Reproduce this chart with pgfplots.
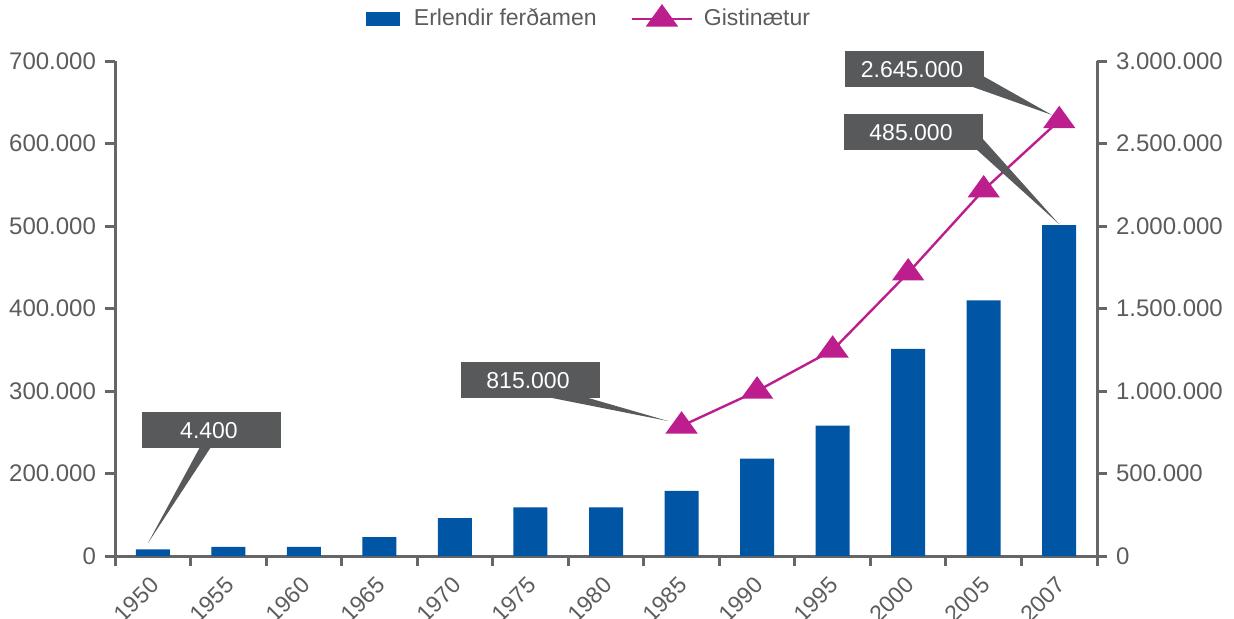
\documentclass[border=0pt]{standalone}
\usepackage{pgfplots}
\pgfplotsset{compat=1.18}
\usepackage{fontspec}
\setmainfont{Liberation Sans}
\definecolor{barblue}{HTML}{0055A5}
\definecolor{linemag}{HTML}{BD1E8E}
\definecolor{boxgray}{HTML}{58595B}
\definecolor{axisgray}{HTML}{666666}
\definecolor{textgray}{HTML}{5C5C5C}
\newcommand{\pc}[2]{({(#1-115)*0.5pt},{(556-#2)*0.5pt})}
\pgfplotsset{tri legend/.style={legend image code/.code={\path[draw=none,fill=none] (0pt,0pt) rectangle (34pt,0.1pt); \draw[mark repeat=2, mark phase=2, ##1] plot coordinates {(0pt,0pt) (15pt,0pt) (30pt,0pt)};}}}
\begin{document}
\begin{tikzpicture}
\useasboundingbox \pc{0}{0} rectangle \pc{1234}{618};
\pgfplotsset{
  common/.style={
    width=491pt, height=247.5pt, scale only axis,
    at={(0,0)}, anchor=south west,
    xmin=-0.5, xmax=12.5,
    axis line style={line width=1.5pt, color=axisgray},
    tick style={line width=1.5pt, color=axisgray},
    tick align=outside,
    every tick label/.append style={font=\fontsize{12}{14}\selectfont, text=textgray},
    /pgf/number format/assume math mode=true,
  }
}
\begin{axis}[common,
  ymin=0, ymax=600,
  axis y line*=left, axis x line*=bottom,
  ytick={0,100,200,300,400,500,600},
  yticklabels={0,200.000,300.000,400.000,500.000,600.000,700.000},
  major tick length=5pt,
  xtick={0,...,12},
  xticklabels={1950,1955,1960,1965,1970,1975,1980,1985,1990,1995,2000,2005,2007},
  x tick style={draw=none},
  minor xtick={-0.5,0.5,...,12.5},
  minor x tick style={line width=1.5pt, color=axisgray, draw=axisgray},
  minor tick length=5pt,
  xticklabel style={xshift=-2pt, yshift=-4.5pt, rotate=45, anchor=north east, inner sep=0pt, font=\fontsize{11.5}{13}\selectfont},
  yticklabel style={xshift=-1pt},
]
\addplot[ybar, bar width=17pt, bar shift=0pt, fill=barblue, draw=none] coordinates {
  (0,8) (1,11) (2,11) (3,23) (4,46) (5,59) (6,59) (7,79) (8,118) (9,158) (10,251) (11,310) (12,401)
};
\end{axis}
\begin{axis}[common,
  ymin=0, ymax=3000000,
  axis y line*=right, axis x line=none,
  ytick={0,500000,1000000,1500000,2000000,2500000,3000000},
  yticklabels={0,500.000,1.000.000,1.500.000,2.000.000,2.500.000,3.000.000},
  major tick length=5pt,
  scaled y ticks=false,
  yticklabel style={xshift=1pt},
  legend columns=2,
  legend style={at={(0.4837,1.085)}, anchor=center, draw=none, fill=none,
    font=\fontsize{11.5}{13}\selectfont, text=textgray,
    /tikz/every even column/.append style={column sep=15pt}},
]
\addlegendimage{legend image code/.code={\path[draw=none,fill=none] (0pt,-3.5pt) rectangle (22pt,3.5pt); \fill[barblue,draw=none] (0pt,-3.5pt) rectangle (17pt,3.5pt);}}
\addlegendentry{Erlendir ferðamen}
\addplot[color=linemag, line width=1.2pt, mark=triangle*, mark size=8pt,
  mark options={yscale=0.8, solid, fill=linemag, draw=none}, tri legend]
coordinates {
  (7,788000) (8,1000000) (9,1248000) (10,1716000) (11,2219000) (12,2639000)
};
\addlegendentry{Gistinætur}
\end{axis}
% callouts
\tikzset{callout/.style={fill=boxgray}, calltext/.style={text=white, font=\fontsize{11.5}{13}\selectfont, inner sep=0pt}}
\fill[callout] \pc{142}{412} rectangle \pc{281}{448};
\fill[callout] \pc{200}{447} -- \pc{211}{447} -- \pc{148}{543} -- cycle;
\node[calltext] at \pc{209}{431} {4.400};
\fill[callout] \pc{461}{362} rectangle \pc{600}{398};
\fill[callout] \pc{547}{397} -- \pc{585}{397} -- \pc{668}{421} -- cycle;
\node[calltext] at \pc{528}{381} {815.000};
\fill[callout] \pc{845}{51} rectangle \pc{984}{87};
\fill[callout] \pc{983}{76} -- \pc{983}{86} -- \pc{970}{86} -- \pc{1052}{115} -- cycle;
\node[calltext] at \pc{912}{70} {2.645.000};
\fill[callout] \pc{844}{114} rectangle \pc{983}{150};
\fill[callout] \pc{982}{138} -- \pc{982}{149} -- \pc{976}{149} -- \pc{1059}{224} -- cycle;
\node[calltext] at \pc{911}{133} {485.000};
\end{tikzpicture}
\end{document}
